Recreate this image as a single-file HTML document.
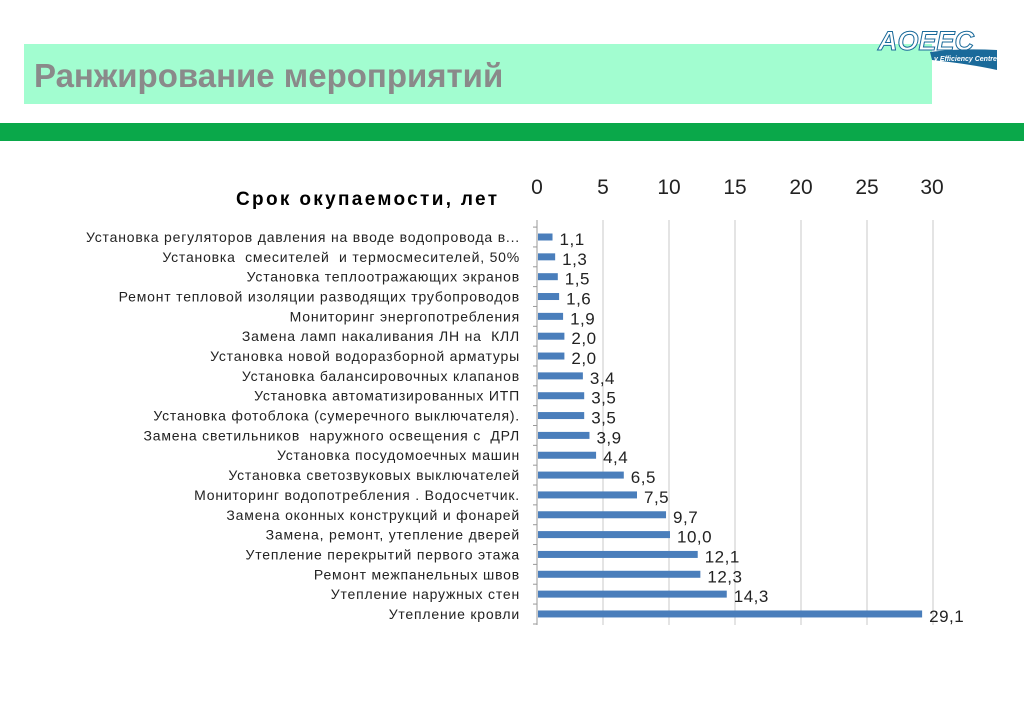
<!DOCTYPE html>
<html><head><meta charset="utf-8"><style>
body{margin:0;width:1024px;height:708px;background:#fff;overflow:hidden;font-family:"Liberation Sans",sans-serif}
</style></head><body>
<svg width="1024" height="708" xmlns="http://www.w3.org/2000/svg" font-family="Liberation Sans, sans-serif">
<rect x="24" y="44" width="908" height="60" fill="#a2fdd0"/>
<text x="34" y="87" font-size="33" font-weight="bold" fill="#8a8a8a">Ранжирование мероприятий</text>
<text x="878" y="50" font-size="27" font-style="italic" font-weight="bold" fill="#fff" stroke="#1a6a9a" stroke-width="1">AOEEC</text>
<path d="M930 52 Q960 48 997 50 L997 70 Q970 64 932 60 Z" fill="#1a6a9a"/>
<text x="934" y="61" font-size="7" font-style="italic" font-weight="bold" fill="#fff">y Efficiency Centre</text>
<rect x="0" y="123" width="1024" height="18" fill="#0aa84a"/>
<text x="236" y="205" font-size="19" font-weight="bold" fill="#000" textLength="261" lengthAdjust="spacing">Срок окупаемости, лет</text>
<g font-size="21" fill="#222" text-anchor="middle">
<text x="537" y="194">0</text><text x="603" y="194">5</text><text x="669" y="194">10</text><text x="735" y="194">15</text><text x="801" y="194">20</text><text x="867" y="194">25</text><text x="932" y="194">30</text>
</g>
<g stroke="#c8c8c8" stroke-width="1">
<line x1="603" y1="220" x2="603" y2="625"/><line x1="669" y1="220" x2="669" y2="625"/><line x1="735" y1="220" x2="735" y2="625"/><line x1="801" y1="220" x2="801" y2="625"/><line x1="867" y1="220" x2="867" y2="625"/><line x1="933" y1="220" x2="933" y2="625"/>
<line x1="537" y1="220" x2="537" y2="625" stroke="#999"/>
</g>
<g id="rows"></g>
</svg>
<script>
var d=[["Установка регуляторов давления на вводе водопровода в...",1.1],["Установка  смесителей  и термосмесителей, 50%",1.3],["Установка теплоотражающих экранов",1.5],["Ремонт тепловой изоляции разводящих трубопроводов",1.6],["Мониторинг энергопотребления",1.9],["Замена ламп накаливания ЛН на  КЛЛ",2.0],["Установка новой водоразборной арматуры",2.0],["Установка балансировочных клапанов",3.4],["Установка автоматизированных ИТП",3.5],["Установка фотоблока (сумеречного выключателя).",3.5],["Замена светильников  наружного освещения с  ДРЛ",3.9],["Установка посудомоечных машин",4.4],["Установка светозвуковых выключателей",6.5],["Мониторинг водопотребления . Водосчетчик.",7.5],["Замена оконных конструкций и фонарей",9.7],["Замена, ремонт, утепление дверей",10.0],["Утепление перекрытий первого этажа",12.1],["Ремонт межпанельных швов",12.3],["Утепление наружных стен",14.3],["Утепление кровли",29.1]];
var g=document.getElementById('rows'),s='';
for(var i=0;i<d.length;i++){var y=237+i*19.84,w=d[i][1]*13.2;
s+='<text x="520" y="'+(y+5)+'" font-size="14" letter-spacing="0.8" fill="#222" text-anchor="end" xml:space="preserve">'+d[i][0]+'</text>';
s+='<rect x="538" y="'+(y-3.5)+'" width="'+w+'" height="7" fill="#4a7ebb"/>';
s+='<text x="'+(538+w+7)+'" y="'+(y+8)+'" font-size="17" letter-spacing="0.5" fill="#222">'+d[i][1].toFixed(1).replace('.',',')+'</text>';
s+='<line x1="533" y1="'+(y-9.9)+'" x2="537" y2="'+(y-9.9)+'" stroke="#999"/>';}
s+='<line x1="533" y1="624" x2="537" y2="624" stroke="#999"/>';
g.innerHTML=s;
</script>
</body></html>
